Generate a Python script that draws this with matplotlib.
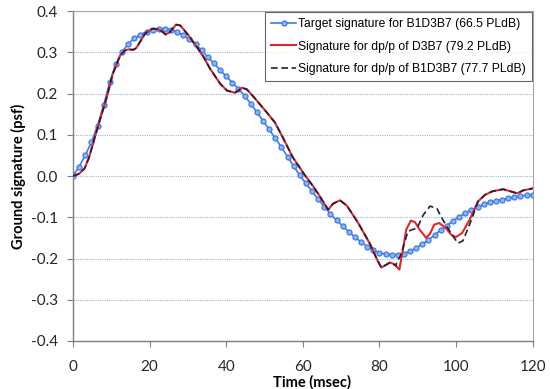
import numpy as np
import matplotlib
matplotlib.use("Agg")
import matplotlib.pyplot as plt

# ---------------- data ----------------
target_t = [0.0, 1.6, 3.2, 4.8, 6.4, 8.0, 9.6, 11.2, 12.8, 14.4, 16.0, 17.6, 19.2, 20.8,
            22.4, 24.0, 25.6, 27.2, 28.8, 30.4, 32.0, 33.6, 35.2, 36.8, 38.4, 40.0, 41.6,
            43.2, 44.8, 46.4, 48.0, 49.6, 51.2, 52.8, 54.4, 56.0, 57.6, 59.2, 60.8, 62.4,
            64.0, 65.6, 67.2, 68.8, 70.4, 72.0, 73.6, 75.2, 76.8, 78.4, 80.0, 81.6, 83.2,
            84.8, 86.4, 88.0, 89.6, 91.2, 92.8, 94.4, 96.0, 97.6, 99.2, 100.8, 102.4, 104.0,
            105.6, 107.2, 108.8, 110.4, 112.0, 113.6, 115.2, 116.8, 118.4, 120.0]
target_v = [0.000, 0.023, 0.050, 0.082, 0.122, 0.172, 0.228, 0.272, 0.300, 0.320, 0.334,
            0.343, 0.350, 0.355, 0.357, 0.357, 0.355, 0.349, 0.341, 0.331, 0.319, 0.305,
            0.288, 0.273, 0.257, 0.242, 0.226, 0.211, 0.195, 0.175, 0.155, 0.134, 0.113,
            0.092, 0.070, 0.047, 0.024, 0.002, -0.018, -0.037, -0.056, -0.074, -0.092,
            -0.107, -0.121, -0.135, -0.148, -0.160, -0.171, -0.180, -0.186, -0.189, -0.191,
            -0.191, -0.188, -0.182, -0.175, -0.165, -0.155, -0.143, -0.131, -0.120, -0.109,
            -0.099, -0.090, -0.082, -0.075, -0.069, -0.064, -0.060, -0.057, -0.054, -0.051,
            -0.049, -0.047, -0.045]

d3b7_t = [0.0, 1.5, 3.0, 4.2, 5.2, 7.0, 8.8, 10.4, 12.3, 13.5, 14.5, 15.7, 16.5, 17.3,
          18.8, 20.6, 22.2, 23.3, 24.2, 25.3, 26.9, 28.0, 29.8, 31.8, 34.0, 35.8, 38.4,
          40.2, 42.3, 43.3, 44.1, 45.4, 47.5, 50.6, 52.7, 54.8, 57.4, 60.6, 62.7, 64.5,
          66.6, 67.9, 69.7, 71.5, 74.4, 77.5, 79.5, 80.5, 81.6, 82.7, 83.5,
          84.3, 85.2, 86.0, 87.0, 88.2, 89.3, 90.5, 92.2, 93.2, 94.3, 95.6, 97.3, 98.8,
          100.0, 101.6, 103.6, 105.7,
          107.5, 109.5, 112.3, 114.5, 116.0, 117.5, 120.0]
d3b7_v = [0.000, 0.005, 0.018, 0.045, 0.078, 0.135, 0.190, 0.248, 0.292, 0.304, 0.307,
          0.306, 0.310, 0.322, 0.345, 0.357, 0.356, 0.350, 0.343, 0.349, 0.367, 0.365,
          0.345, 0.320, 0.290, 0.260, 0.224, 0.207, 0.202, 0.208, 0.214, 0.210, 0.188,
          0.154, 0.130, 0.093, 0.045, 0.001, -0.025, -0.050, -0.082, -0.067, -0.059,
          -0.072, -0.113, -0.164, -0.205, -0.222, -0.216, -0.210, -0.212,
          -0.218, -0.227, -0.185, -0.130, -0.108, -0.112, -0.130, -0.150, -0.140, -0.118,
          -0.114, -0.126, -0.143, -0.148, -0.138, -0.105, -0.062,
          -0.046, -0.037, -0.032, -0.038, -0.042, -0.035, -0.030]

b1_t_mid = [84.4, 85.4, 86.2, 87.4, 88.5, 89.8, 91.4, 93.2, 95.0, 96.6, 98.9, 100.5,
            101.8, 103.6, 105.5]
b1_v_mid = [-0.212, -0.195, -0.173, -0.135, -0.130, -0.127, -0.095, -0.073, -0.079,
            -0.107, -0.142, -0.163, -0.157, -0.116, -0.068]

legend_labels = ["Target signature for B1D3B7 (66.5 PLdB)",
                 "Signature for dp/p of D3B7 (79.2 PLdB)",
                 "Signature for dp/p of B1D3B7 (77.7 PLdB)"]

x_ticks = [0, 20, 40, 60, 80, 100, 120]
y_ticks = [-0.4, -0.3, -0.2, -0.1, 0.0, 0.1, 0.2, 0.3, 0.4]

# dashed series shares the D3B7 curve outside its own segment
n_pre = sum(1 for t in d3b7_t if t < b1_t_mid[0])
n_post = sum(1 for t in d3b7_t if t > b1_t_mid[-1])
b1_t = d3b7_t[:n_pre] + b1_t_mid + d3b7_t[-n_post:]
b1_v = d3b7_v[:n_pre] + b1_v_mid + d3b7_v[-n_post:]

# ---------------- plot ----------------
tick_font = ["Lato", "DejaVu Sans"]
leg_font = ["Liberation Sans Narrow", "Liberation Sans", "DejaVu Sans"]

fig = plt.figure(figsize=(5.5, 3.89), dpi=100)
ax = fig.add_axes([0.1327, 0.1234, 0.8358, 0.8483])

ax.plot(target_t, target_v, color="#3b7be6", lw=1.2, marker="o", ms=3.6,
        mfc="#8fb4f2", mec="#3b7be6", mew=0.9, zorder=3, label=legend_labels[0])
ax.plot(d3b7_t, d3b7_v, color="#e8232a", lw=1.5, zorder=4, label=legend_labels[1])
ax.plot(b1_t, b1_v, color="#1c2238", lw=1.2, ls=(0, (4, 2.2)), zorder=5,
        label=legend_labels[2])

ax.set_xlim(0, 120)
ax.set_ylim(-0.4, 0.4)
ax.set_xticks(x_ticks)
ax.set_yticks(y_ticks)
ax.set_xticklabels([str(v) for v in x_ticks], family=tick_font, fontsize=11)
ax.set_yticklabels(["%.1f" % v for v in y_ticks], family=tick_font, fontsize=11)
ax.tick_params(axis="both", direction="out", length=4, width=0.8, color="#7f7f7f",
               labelcolor="#262626")
ax.tick_params(axis="y", pad=7)
ax.tick_params(axis="x", pad=10)

ax.yaxis.grid(True, color="#9db3d6", lw=0.8, ls=(0, (1, 1)))
ax.set_axisbelow(True)

for side in ["left", "bottom"]:
    ax.spines[side].set_color("#7f7f7f")
    ax.spines[side].set_linewidth(1.0)
for side in ["right", "top"]:
    ax.spines[side].set_color("#a6a6a6")
    ax.spines[side].set_linewidth(0.8)

ax.set_xlabel("Time (msec)", family=tick_font, fontsize=10.5, fontweight="bold")
ax.xaxis.set_label_coords(0.52, -0.102)
ax.set_ylabel("Ground signature (psf)", family=tick_font, fontsize=10.5,
              fontweight="bold", labelpad=3)

leg = ax.legend(loc="upper right", prop={"family": leg_font, "size": 8.7},
                frameon=True, fancybox=False, borderpad=0.5, labelspacing=0.85,
                handlelength=2.1, handletextpad=0.15, borderaxespad=0.0,
                bbox_to_anchor=(0.9985, 0.996))
leg.get_frame().set_edgecolor("#404040")
leg.get_frame().set_linewidth(0.8)

fig.savefig("out.png", dpi=100)
